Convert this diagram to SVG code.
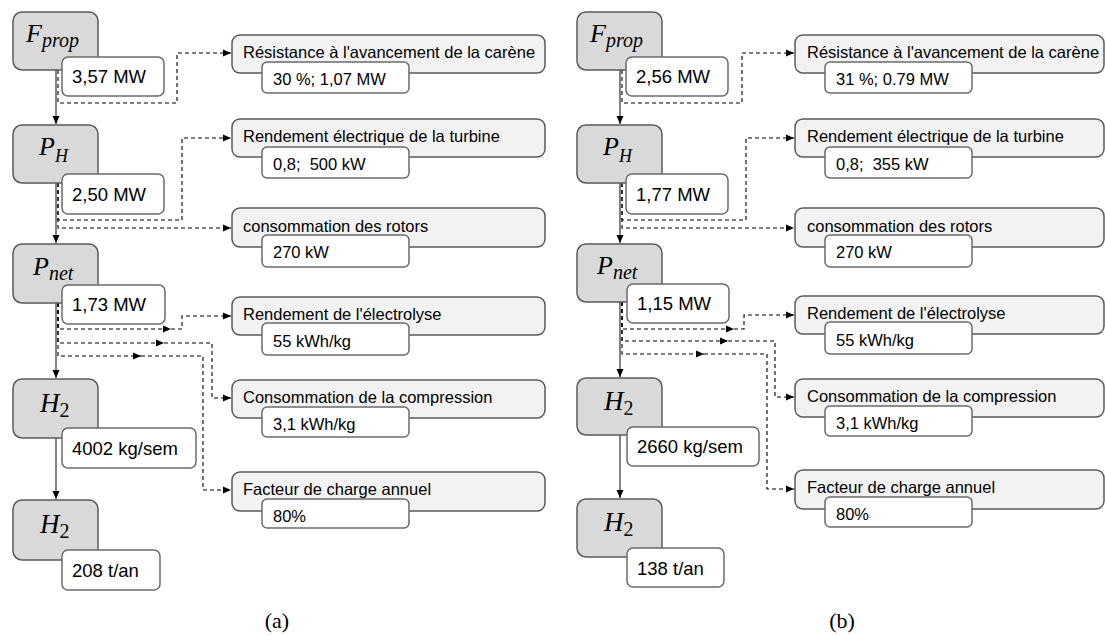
<svg xmlns="http://www.w3.org/2000/svg" width="1105" height="636" viewBox="0 0 1105 636">
<style>
.main{fill:#d9d9d9;stroke:#595959;stroke-width:1.5}
.val{fill:#ffffff;stroke:#6b6b6b;stroke-width:1.5}
.par{fill:#f2f2f2;stroke:#595959;stroke-width:1.5}
.t{font-family:"Liberation Sans",Arial,sans-serif;font-size:16.5px;fill:#000}
.tv{font-family:"Liberation Sans",Arial,sans-serif;font-size:18.5px;fill:#000}
.m{font-family:"Liberation Serif","Times New Roman",serif;font-style:italic;fill:#000}
.cap{font-family:"Liberation Serif","Times New Roman",serif;font-size:22px;fill:#000}
.solid{fill:none;stroke:#404040;stroke-width:1.3}
.dash{fill:none;stroke:#000;stroke-width:1.1;stroke-dasharray:4 3}
</style>
<defs>
<marker id="ah" markerUnits="userSpaceOnUse" markerWidth="9" markerHeight="8" refX="8" refY="4" orient="auto">
<path d="M0,0.5 L8,4 L0,7.5 Z" fill="#000"/>
</marker>
</defs>

<!-- Panel a -->
<g id="panel-a">
<g id="connectors-a">
<path class="solid" d="M56,70 V124" marker-end="url(#ah)"/>
<path class="solid" d="M56,183 V243" marker-end="url(#ah)"/>
<path class="solid" d="M56,303 V378" marker-end="url(#ah)"/>
<path class="solid" d="M56,438 V499" marker-end="url(#ah)"/>
<path class="dash" d="M58,70 V103 H177 V53 H231" marker-end="url(#ah)"/>
<path class="dash" d="M58,183 V220 H182 V138 H231" marker-end="url(#ah)"/>
<path class="dash" d="M58,183 V228 H231" marker-end="url(#ah)"/>
<path class="dash" d="M58,303 V329 H171" marker-end="url(#ah)"/>
<path class="dash" d="M171,329 H182 V316 H231" marker-end="url(#ah)"/>
<path class="dash" d="M58,303 V343 H164" marker-end="url(#ah)"/>
<path class="dash" d="M164,343 H212 V398 H231" marker-end="url(#ah)"/>
<path class="dash" d="M58,303 V356 H141" marker-end="url(#ah)"/>
<path class="dash" d="M141,356 H203 V490 H231" marker-end="url(#ah)"/>
</g>
<g id="a-fprop">
<rect class="main" x="13" y="12" width="85" height="58" rx="9"/>
<text class="m" x="26" y="42" font-size="26">F<tspan font-size="20" dy="5">prop</tspan></text>
<rect class="val" x="62" y="57" width="102" height="39" rx="6"/>
<text class="tv" x="72" y="83">3,57 MW</text>
</g>
<g id="a-ph">
<rect class="main" x="13" y="125" width="85" height="58" rx="9"/>
<text class="m" x="39" y="155" font-size="26">P<tspan font-size="18" dy="7">H</tspan></text>
<rect class="val" x="62" y="174" width="102" height="40" rx="6"/>
<text class="tv" x="72" y="201">2,50 MW</text>
</g>
<g id="a-pnet">
<rect class="main" x="13" y="244" width="85" height="59" rx="9"/>
<text class="m" x="33" y="275" font-size="26">P<tspan font-size="20" dy="5">net</tspan></text>
<rect class="val" x="62" y="285" width="103" height="39" rx="6"/>
<text class="tv" x="72" y="311">1,73 MW</text>
</g>
<g id="a-h2w">
<rect class="main" x="13" y="379" width="85" height="59" rx="9"/>
<text class="m" x="40" y="412" font-size="27">H<tspan font-size="20" font-style="normal" dy="5">2</tspan></text>
<rect class="val" x="62" y="428" width="134" height="40" rx="6"/>
<text class="tv" x="72" y="455">4002 kg/sem</text>
</g>
<g id="a-h2y">
<rect class="main" x="13" y="500" width="85" height="60" rx="9"/>
<text class="m" x="40" y="533" font-size="27">H<tspan font-size="20" font-style="normal" dy="5">2</tspan></text>
<rect class="val" x="62" y="550" width="98" height="40" rx="6"/>
<text class="tv" x="72" y="577">208 t/an</text>
</g>
<g id="a-res">
<rect class="par" x="232" y="35" width="313" height="38" rx="8"/>
<text class="t" x="243" y="58">Résistance à l'avancement de la carène</text>
<rect class="val" x="262" y="62" width="147" height="31" rx="5"/>
<text class="t" x="273" y="85">30 %; 1,07 MW</text>
</g>
<g id="a-turb">
<rect class="par" x="232" y="119" width="313" height="38" rx="8"/>
<text class="t" x="243" y="142">Rendement électrique de la turbine</text>
<rect class="val" x="262" y="147" width="147" height="31" rx="5"/>
<text class="t" x="273" y="170">0,8;&#160; 500 kW</text>
</g>
<g id="a-rot">
<rect class="par" x="232" y="208" width="313" height="39" rx="8"/>
<text class="t" x="243" y="232">consommation des rotors</text>
<rect class="val" x="262" y="235" width="147" height="32" rx="5"/>
<text class="t" x="273" y="258">270 kW</text>
</g>
<g id="a-elec">
<rect class="par" x="232" y="297" width="313" height="38" rx="8"/>
<text class="t" x="243" y="320">Rendement de l'électrolyse</text>
<rect class="val" x="262" y="323" width="147" height="32" rx="5"/>
<text class="t" x="273" y="347">55 kWh/kg</text>
</g>
<g id="a-comp">
<rect class="par" x="232" y="380" width="313" height="38" rx="8"/>
<text class="t" x="243" y="403">Consommation de la compression</text>
<rect class="val" x="262" y="407" width="147" height="30" rx="5"/>
<text class="t" x="273" y="430">3,1 kWh/kg</text>
</g>
<g id="a-fc">
<rect class="par" x="232" y="472" width="313" height="39" rx="8"/>
<text class="t" x="243" y="495">Facteur de charge annuel</text>
<rect class="val" x="262" y="499" width="147" height="29" rx="5"/>
<text class="t" x="273" y="522">80%</text>
</g>
<text id="cap-a" class="cap" x="277" y="628" text-anchor="middle">(a)</text>
</g>

<!-- Panel b -->
<g id="panel-b" transform="translate(564,0)">
<g id="connectors-b">
<path class="solid" d="M56,70 V124" marker-end="url(#ah)"/>
<path class="solid" d="M56,183 V243" marker-end="url(#ah)"/>
<path class="solid" d="M56,302 V377" marker-end="url(#ah)"/>
<path class="solid" d="M56,435 V498" marker-end="url(#ah)"/>
<path class="dash" d="M58,70 V103 H178 V53 H230" marker-end="url(#ah)"/>
<path class="dash" d="M58,183 V220 H182 V138 H230" marker-end="url(#ah)"/>
<path class="dash" d="M58,183 V228 H230" marker-end="url(#ah)"/>
<path class="dash" d="M58,302 V329 H170" marker-end="url(#ah)"/>
<path class="dash" d="M170,329 H180 V315 H230" marker-end="url(#ah)"/>
<path class="dash" d="M58,302 V341 H164" marker-end="url(#ah)"/>
<path class="dash" d="M164,341 H211 V397 H230" marker-end="url(#ah)"/>
<path class="dash" d="M58,302 V354 H140" marker-end="url(#ah)"/>
<path class="dash" d="M140,354 H203 V489 H230" marker-end="url(#ah)"/>
</g>
<g id="b-fprop">
<rect class="main" x="13" y="12" width="85" height="58" rx="9"/>
<text class="m" x="26" y="42" font-size="26">F<tspan font-size="20" dy="5">prop</tspan></text>
<rect class="val" x="62" y="57" width="102" height="39" rx="6"/>
<text class="tv" x="72" y="83">2,56 MW</text>
</g>
<g id="b-ph">
<rect class="main" x="13" y="125" width="85" height="58" rx="9"/>
<text class="m" x="39" y="155" font-size="26">P<tspan font-size="18" dy="7">H</tspan></text>
<rect class="val" x="62" y="174" width="102" height="40" rx="6"/>
<text class="tv" x="72" y="201">1,77 MW</text>
</g>
<g id="b-pnet">
<rect class="main" x="13" y="244" width="85" height="58" rx="9"/>
<text class="m" x="33" y="274" font-size="26">P<tspan font-size="20" dy="5">net</tspan></text>
<rect class="val" x="63" y="284" width="102" height="39" rx="6"/>
<text class="tv" x="73" y="310">1,15 MW</text>
</g>
<g id="b-h2w">
<rect class="main" x="13" y="378" width="85" height="57" rx="9"/>
<text class="m" x="40" y="410" font-size="27">H<tspan font-size="20" font-style="normal" dy="5">2</tspan></text>
<rect class="val" x="63" y="427" width="132" height="39" rx="6"/>
<text class="tv" x="73" y="453">2660 kg/sem</text>
</g>
<g id="b-h2y">
<rect class="main" x="13" y="499" width="85" height="58" rx="9"/>
<text class="m" x="40" y="531" font-size="27">H<tspan font-size="20" font-style="normal" dy="5">2</tspan></text>
<rect class="val" x="63" y="548" width="97" height="39" rx="6"/>
<text class="tv" x="73" y="575">138 t/an</text>
</g>
<g id="b-res">
<rect class="par" x="231" y="35" width="309" height="38" rx="8"/>
<text class="t" x="243" y="58">Résistance à l'avancement de la carène</text>
<rect class="val" x="261" y="62" width="147" height="31" rx="5"/>
<text class="t" x="272" y="85">31 %; 0.79 MW</text>
</g>
<g id="b-turb">
<rect class="par" x="231" y="119" width="309" height="38" rx="8"/>
<text class="t" x="243" y="142">Rendement électrique de la turbine</text>
<rect class="val" x="261" y="147" width="147" height="31" rx="5"/>
<text class="t" x="272" y="170">0,8;&#160; 355 kW</text>
</g>
<g id="b-rot">
<rect class="par" x="231" y="208" width="309" height="39" rx="8"/>
<text class="t" x="243" y="232">consommation des rotors</text>
<rect class="val" x="261" y="235" width="147" height="32" rx="5"/>
<text class="t" x="272" y="258">270 kW</text>
</g>
<g id="b-elec">
<rect class="par" x="231" y="296" width="309" height="38" rx="8"/>
<text class="t" x="243" y="319">Rendement de l'électrolyse</text>
<rect class="val" x="261" y="322" width="147" height="32" rx="5"/>
<text class="t" x="272" y="346">55 kWh/kg</text>
</g>
<g id="b-comp">
<rect class="par" x="231" y="379" width="309" height="38" rx="8"/>
<text class="t" x="243" y="402">Consommation de la compression</text>
<rect class="val" x="261" y="406" width="147" height="30" rx="5"/>
<text class="t" x="272" y="429">3,1 kWh/kg</text>
</g>
<g id="b-fc">
<rect class="par" x="231" y="470" width="309" height="39" rx="8"/>
<text class="t" x="243" y="493">Facteur de charge annuel</text>
<rect class="val" x="261" y="497" width="147" height="30" rx="5"/>
<text class="t" x="272" y="520">80%</text>
</g>
<text id="cap-b" class="cap" x="278" y="628" text-anchor="middle">(b)</text>
</g>
</svg>
